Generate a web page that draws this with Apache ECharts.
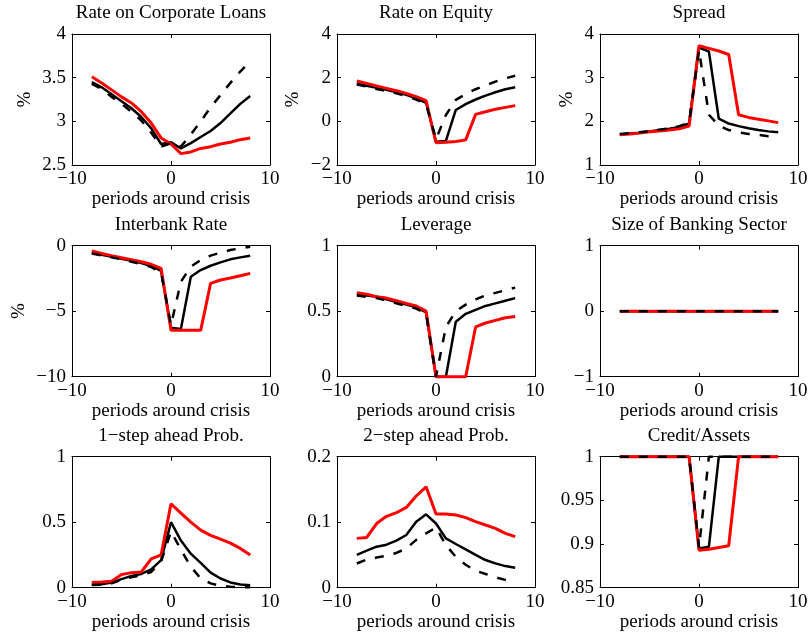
<!DOCTYPE html>
<html>
<head>
<meta charset="utf-8">
<title>Variables around crisis</title>
<script src="https://cdn.jsdelivr.net/npm/echarts/dist/echarts.min.js"></script>
<style>
  html, body { margin: 0; padding: 0; background: #fff; }
  #chart { width: 811px; height: 639px; }
</style>
</head>
<body>
<div id="chart"></div>
<script>
// Periods relative to the crisis date
const periods = [-8, -7, -6, -5, -4, -3, -2, -1, 0, 1, 2, 3, 4, 5, 6, 7, 8];

const panelTitles = [
  'Rate on Corporate Loans', 'Rate on Equity', 'Spread',
  'Interbank Rate', 'Leverage', 'Size of Banking Sector',
  '1\u2212step ahead Prob.', '2\u2212step ahead Prob.', 'Credit/Assets'
];
const yAxisTitles = ['%', '%', '%', '%', '', '', '', '', ''];
const xAxisTitle = 'periods around crisis';

// x axis: [min, max, step]
const xTicks = [-10, 10, 10];
// y axes: [min, max, step] per panel
const yTicks = [
  [2.5, 4, 0.5], [-2, 4, 2], [1, 4, 1],
  [-10, 0, 5], [0, 1, 0.5], [-1, 1, 1],
  [0, 1, 0.5], [0, 0.2, 0.1], [0.85, 1, 0.05]
];

// Rate on Corporate Loans
const loansSolid  = [3.45, 3.39, 3.31, 3.23, 3.15, 3.05, 2.92, 2.74, 2.76, 2.69, 2.75, 2.82, 2.89, 2.98, 3.09, 3.20, 3.29];
const loansDashed = [3.43, 3.37, 3.28, 3.20, 3.11, 3.01, 2.87, 2.71, 2.75, 2.71, 2.85, 3.00, 3.16, 3.30, 3.44, 3.57, 3.69];
const loansRed    = [3.51, 3.44, 3.36, 3.28, 3.21, 3.11, 2.98, 2.81, 2.74, 2.63, 2.65, 2.69, 2.71, 2.74, 2.76, 2.79, 2.81];

// Rate on Equity
const equitySolid  = [1.74, 1.63, 1.54, 1.44, 1.33, 1.21, 1.05, 0.85, -0.93, -0.90, 0.52, 0.79, 1.00, 1.18, 1.33, 1.47, 1.56];
const equityDashed = [1.69, 1.59, 1.48, 1.39, 1.28, 1.16, 1.00, 0.79, -0.82, 0.29, 0.98, 1.25, 1.47, 1.65, 1.82, 1.97, 2.09];
const equityRed    = [1.85, 1.74, 1.62, 1.51, 1.40, 1.28, 1.13, 0.95, -0.98, -0.96, -0.92, -0.85, 0.32, 0.44, 0.55, 0.64, 0.72];

// Spread
const spreadSolid  = [1.70, 1.72, 1.74, 1.77, 1.80, 1.83, 1.87, 1.95, 3.69, 3.60, 2.06, 1.95, 1.89, 1.84, 1.80, 1.77, 1.75];
const spreadDashed = [1.71, 1.73, 1.75, 1.78, 1.81, 1.84, 1.89, 1.97, 3.63, 2.15, 1.90, 1.80, 1.75, 1.71, 1.69, 1.66, 1.65];
const spreadRed    = [1.69, 1.71, 1.73, 1.76, 1.78, 1.80, 1.83, 1.89, 3.73, 3.67, 3.61, 3.53, 2.15, 2.09, 2.05, 2.01, 1.97];

// Interbank Rate
const interbankSolid  = [-0.53, -0.69, -0.84, -0.99, -1.15, -1.32, -1.55, -1.93, -6.26, -6.36, -2.37, -1.86, -1.53, -1.27, -1.04, -0.89, -0.76];
const interbankDashed = [-0.59, -0.74, -0.89, -1.04, -1.22, -1.40, -1.63, -2.04, -6.06, -2.75, -1.60, -1.09, -0.76, -0.53, -0.33, -0.20, -0.08];
const interbankRed    = [-0.41, -0.59, -0.76, -0.92, -1.07, -1.22, -1.42, -1.73, -6.46, -6.46, -6.46, -6.46, -2.88, -2.62, -2.47, -2.29, -2.11];

// Leverage
const leverageSolid  = [0.63, 0.62, 0.61, 0.59, 0.57, 0.55, 0.53, 0.49, 0, 0, 0.42, 0.48, 0.51, 0.54, 0.56, 0.58, 0.60];
const leverageDashed = [0.62, 0.61, 0.60, 0.58, 0.56, 0.54, 0.52, 0.48, 0, 0.38, 0.50, 0.55, 0.59, 0.62, 0.64, 0.66, 0.68];
const leverageRed    = [0.64, 0.63, 0.61, 0.60, 0.58, 0.56, 0.54, 0.50, 0, 0, 0, 0, 0.38, 0.41, 0.43, 0.45, 0.46];

// Size of Banking Sector
const sizeSolid  = [0, 0, 0, 0, 0, 0, 0, 0, 0, 0, 0, 0, 0, 0, 0, 0, 0];
const sizeDashed = [0, 0, 0, 0, 0, 0, 0, 0, 0, 0, 0, 0, 0, 0, 0, 0, 0];
const sizeRed    = [0, 0, 0, 0, 0, 0, 0, 0, 0, 0, 0, 0, 0, 0, 0, 0, 0];

// 1-step ahead probability
const prob1Solid  = [0.025, 0.027, 0.040, 0.065, 0.090, 0.105, 0.140, 0.210, 0.500, 0.360, 0.260, 0.190, 0.115, 0.070, 0.040, 0.025, 0.018];
const prob1Dashed = [0.020, 0.022, 0.033, 0.060, 0.080, 0.095, 0.120, 0.200, 0.430, 0.290, 0.160, 0.070, 0.033, 0.015, 0.008, 0.003, 0.003];
const prob1Red    = [0.040, 0.043, 0.050, 0.100, 0.115, 0.120, 0.220, 0.250, 0.640, 0.570, 0.500, 0.440, 0.400, 0.370, 0.340, 0.300, 0.250];

// 2-step ahead probability
const prob2Solid  = [0.050, 0.0565, 0.0626, 0.0657, 0.0718, 0.0804, 0.1008, 0.112, 0.098, 0.0753, 0.0667, 0.0585, 0.050, 0.0422, 0.0372, 0.033, 0.0305];
const prob2Dashed = [0.037, 0.043, 0.046, 0.049, 0.053, 0.060, 0.073, 0.083, 0.092, 0.065, 0.047, 0.035, 0.026, 0.021, 0.016, 0.012, 0.008];
const prob2Red    = [0.0753, 0.0768, 0.098, 0.109, 0.1145, 0.1226, 0.140, 0.154, 0.1125, 0.1125, 0.111, 0.107, 0.101, 0.0957, 0.0906, 0.083, 0.078];

// Credit/Assets
const creditSolid  = [1, 1, 1, 1, 1, 1, 1, 1, 0.895, 0.897, 1, 1, 1, 1, 1, 1, 1];
const creditDashed = [1, 1, 1, 1, 1, 1, 1, 1, 0.896, 1, 1, 1, 1, 1, 1, 1, 1];
const creditRed    = [1, 1, 1, 1, 1, 1, 1, 1, 0.893, 0.894, 0.896, 0.898, 1, 1, 1, 1, 1];

const panelSeries = [
  [loansSolid, loansRed, loansDashed],
  [equitySolid, equityRed, equityDashed],
  [spreadSolid, spreadRed, spreadDashed],
  [interbankSolid, interbankRed, interbankDashed],
  [leverageSolid, leverageRed, leverageDashed],
  [sizeSolid, sizeRed, sizeDashed],
  [prob1Solid, prob1Red, prob1Dashed],
  [prob2Solid, prob2Red, prob2Dashed],
  [creditSolid, creditRed, creditDashed]
];

// ---- layout ----
const FONT = 'Liberation Serif, Times New Roman, serif';
const FS = 19;
const colLeft = [72, 337, 600];
const rowTop = [34, 245.7, 456.7];
const plotW = 198;
const plotH = 131;
const yNameGap = [37, 34, 23, 43, 0, 0, 0, 0, 0];

const lineStyles = [
  { color: '#000000', width: 2.5, type: 'solid' },
  { color: '#ff0000', width: 3, type: 'solid' },
  { color: '#000000', width: 2.5, type: [9, 10] }
];

function fmt(v) {
  const s = String(parseFloat(Number(v).toFixed(4)));
  return s.replace('-', '\u2212');
}

const textBase = { fontFamily: FONT, fontSize: FS, color: '#000' };

const grid = [], xAxis = [], yAxis = [], series = [], title = [];

for (let i = 0; i < 9; i++) {
  const r = Math.floor(i / 3), c = i % 3;
  grid.push({ left: colLeft[c], top: rowTop[r], width: plotW, height: plotH, containLabel: false });

  title.push({
    text: panelTitles[i],
    left: colLeft[c] + plotW / 2,
    top: rowTop[r] - 30,
    textAlign: 'center',
    padding: 0,
    textStyle: Object.assign({ fontWeight: 'normal' }, textBase)
  });

  const axisLine = { show: true, onZero: false, lineStyle: { color: '#000', width: 1 } };
  const axisTick = { show: true, inside: true, length: 4, lineStyle: { color: '#000', width: 1 } };

  xAxis.push({
    gridIndex: i, type: 'value', position: 'bottom',
    min: xTicks[0], max: xTicks[1], interval: xTicks[2],
    axisLine, axisTick,
    axisLabel: Object.assign({ margin: 5, formatter: fmt }, textBase),
    splitLine: { show: false },
    name: xAxisTitle, nameLocation: 'middle', nameGap: 22,
    nameTextStyle: textBase
  });
  xAxis.push({
    gridIndex: i, type: 'value', position: 'top',
    min: xTicks[0], max: xTicks[1], interval: xTicks[2],
    axisLine, axisTick,
    axisLabel: { show: false }, splitLine: { show: false }
  });

  const yt = yTicks[i];
  yAxis.push({
    gridIndex: i, type: 'value', position: 'left',
    min: yt[0], max: yt[1], interval: yt[2],
    axisLine, axisTick,
    axisLabel: Object.assign({ margin: 6, formatter: fmt }, textBase),
    splitLine: { show: false },
    name: yAxisTitles[i], nameLocation: 'middle', nameGap: yNameGap[i],
    nameTextStyle: textBase
  });
  yAxis.push({
    gridIndex: i, type: 'value', position: 'right',
    min: yt[0], max: yt[1], interval: yt[2],
    axisLine, axisTick,
    axisLabel: { show: false }, splitLine: { show: false }
  });

  panelSeries[i].forEach((arr, k) => {
    series.push({
      type: 'line',
      xAxisIndex: 2 * i, yAxisIndex: 2 * i,
      data: periods.map((p, j) => [p, arr[j]]),
      symbol: 'none', showSymbol: false,
      clip: false,
      lineStyle: lineStyles[k],
      z: 2 + k,
      silent: true
    });
  });
}

const chart = echarts.init(document.getElementById('chart'), null, { renderer: 'canvas' });
chart.setOption({
  animation: false,
  backgroundColor: '#fff',
  title, grid, xAxis, yAxis, series
});
</script>
</body>
</html>
